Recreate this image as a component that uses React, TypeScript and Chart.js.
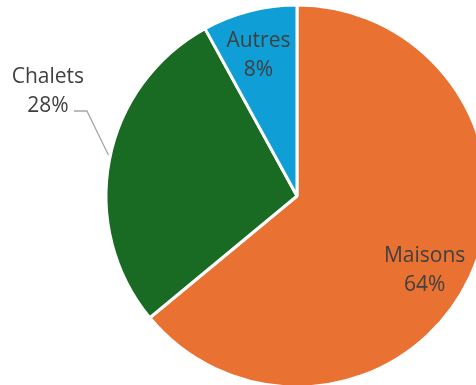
import React, { useEffect, useRef } from "react";
import { Chart, registerables } from "chart.js";

Chart.register(...registerables);

const categories = ["Maisons", "Chalets", "Autres"];
const values = [64, 28, 8];
const colors = ["#E97132", "#196B24", "#0F9ED5"];

const labelPlugin = {
  id: "sliceLabels",
  afterDraw(chart: any) {
    const ctx = chart.ctx;
    const meta = chart.getDatasetMeta(0);
    const total = values.reduce((a, b) => a + b, 0);
    ctx.save();
    ctx.font = "21px 'Open Sans'";
    ctx.fillStyle = "#404040";
    ctx.textAlign = "center";
    ctx.textBaseline = "alphabetic";
    meta.data.forEach((arc: any, i: number) => {
      const mid = (arc.startAngle + arc.endAngle) / 2;
      const r = arc.outerRadius;
      const pct = Math.round((values[i] / total) * 100) + "%";
      let cx: number, ym: number;
      if (i === 1) {
        // outside label with leader line
        cx = arc.x - r * 1.304;
        ym = arc.y - r * 0.555;
        const ea = mid + 0.026;
        const ex = arc.x + Math.cos(ea) * (r + 2);
        const ey = arc.y + Math.sin(ea) * (r + 2);
        ctx.strokeStyle = "#A6A6A6";
        ctx.lineWidth = 1.3;
        ctx.beginPath();
        ctx.moveTo(cx + 26, ym + 21);
        ctx.lineTo(cx + 39, ym + 21);
        ctx.lineTo(ex, ey);
        ctx.stroke();
      } else {
        const f = 0.77;
        cx = arc.x + Math.cos(mid) * r * f;
        ym = arc.y + Math.sin(mid) * r * f;
        if (i === 0) { cx -= 5.5; ym += 10; }
        else { cx -= 2; }
      }
      ctx.fillText(categories[i], cx, ym - 7);
      ctx.fillText(pct, cx, ym + 22);
    });
    ctx.restore();
  },
};

export default function App() {
  const ref = useRef<HTMLCanvasElement>(null);
  useEffect(() => {
    if (!ref.current) return;
    const chart = new Chart(ref.current, {
      type: "pie",
      data: {
        labels: categories,
        datasets: [
          {
            data: values,
            backgroundColor: colors,
            borderColor: "#FFFFFF",
            borderWidth: 3,
            radius: 191,
          } as any,
        ],
      },
      options: {
        responsive: false,
        animation: false,
        layout: { padding: 0 },
        plugins: {
          legend: { display: false },
          tooltip: { enabled: false },
        },
      },
      plugins: [labelPlugin],
    });
    return () => chart.destroy();
  }, []);
  return (
    <div
      style={{
        position: "fixed",
        left: 0,
        top: 0,
        width: 476,
        height: 385,
        overflow: "hidden",
        background: "#fff",
      }}
    >
      <canvas
        ref={ref}
        width={594}
        height={392}
        style={{ position: "absolute", left: 0, top: 0, width: 594, height: 392 }}
      />
    </div>
  );
}
